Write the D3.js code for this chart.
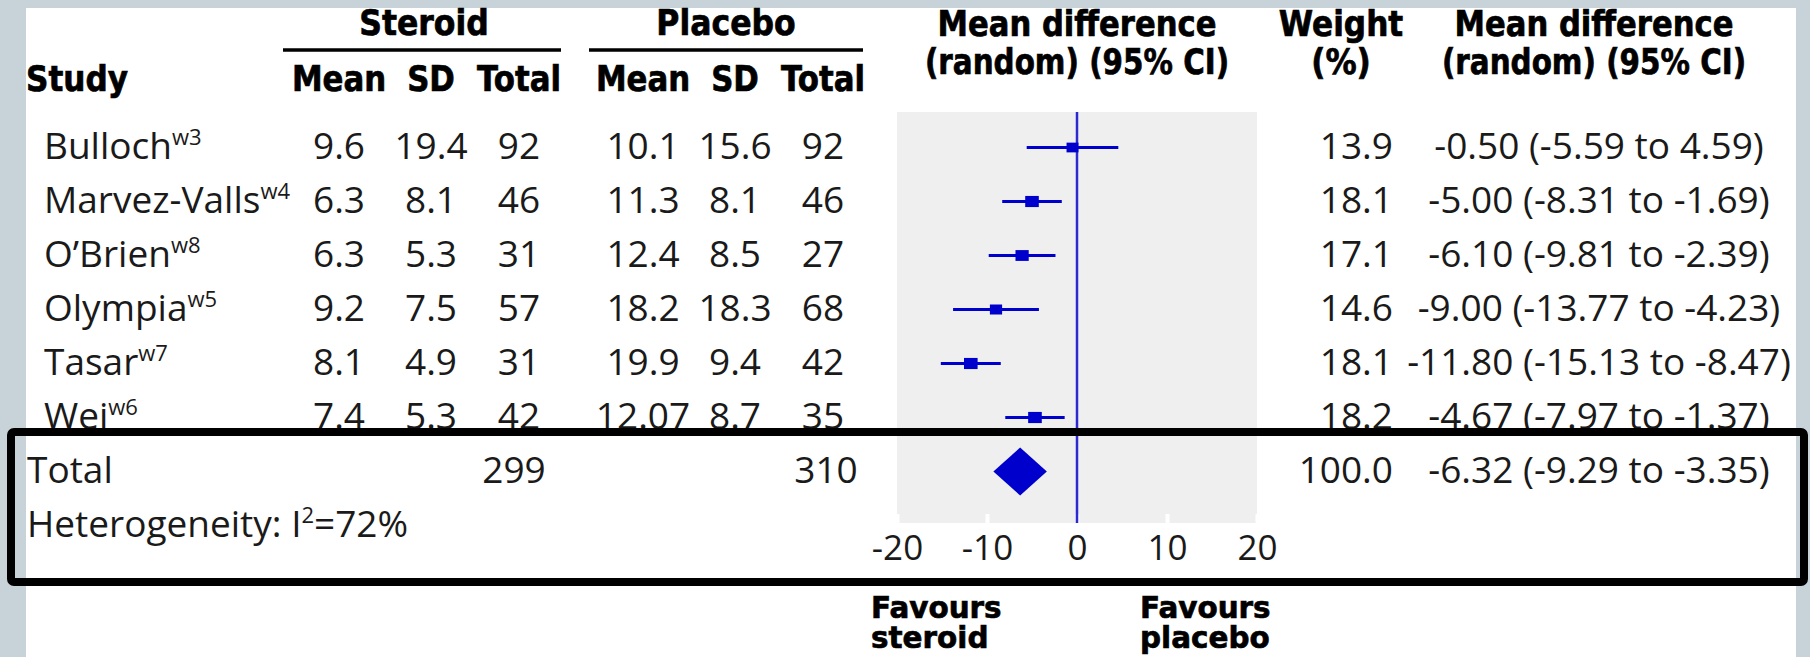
<!DOCTYPE html>
<html>
<head>
<meta charset="utf-8">
<script src="https://cdn.jsdelivr.net/npm/d3@7"></script>
<style>
  html, body { margin: 0; padding: 0; background: #c8d2d9; }
  svg { display: block; }
</style>
</head>
<body>
<svg id="chart" width="1810" height="657"></svg>
<script>
// ---------- data ----------
const studies      = ["Bulloch", "Marvez-Valls", "O\u2019Brien", "Olympia", "Tasar", "Wei"];
const refs         = ["w3", "w4", "w8", "w5", "w7", "w6"];
const steroidMean  = ["9.6", "6.3", "6.3", "9.2", "8.1", "7.4"];
const steroidSD    = ["19.4", "8.1", "5.3", "7.5", "4.9", "5.3"];
const steroidN     = [92, 46, 31, 57, 31, 42];
const placeboMean  = ["10.1", "11.3", "12.4", "18.2", "19.9", "12.07"];
const placeboSD    = ["15.6", "8.1", "8.5", "18.3", "9.4", "8.7"];
const placeboN     = [92, 46, 27, 68, 42, 35];
const weights      = [13.9, 18.1, 17.1, 14.6, 18.1, 18.2];
const md           = [-0.50, -5.00, -6.10, -9.00, -11.80, -4.67];
const ciLow        = [-5.59, -8.31, -9.81, -13.77, -15.13, -7.97];
const ciHigh       = [4.59, -1.69, -2.39, -4.23, -8.47, -1.37];
const totalSteroidN = 299;
const totalPlaceboN = 310;
const totalWeight   = 100.0;
const totalMD       = -6.32;
const totalLow      = -9.29;
const totalHigh     = -3.35;
const heterogeneityI2 = 72;
const xTicks        = [-20, -10, 0, 10, 20];

// ---------- layout ----------
const svg = d3.select("#chart");
const W = 1810, H = 657;
const bodyFont = "'Open Sans', 'Noto Sans', sans-serif";
const headFont = "'DejaVu Sans', 'Verdana', sans-serif";
const ink = "#1a1a1a";
const blue = "#0000cc";

svg.append("rect").attr("x", 0).attr("y", 0).attr("width", W).attr("height", H).attr("fill", "#c8d2d9");
svg.append("rect").attr("x", 26).attr("y", 8).attr("width", 1770).attr("height", H - 8).attr("fill", "#ffffff");

const x = d3.scaleLinear().domain([-20, 20]).range([897, 1257]);
const y = d3.scaleLinear().domain([0, 6]).range([147.5, 471.5]);
const sq = d3.scaleSqrt().domain([0, 20]).range([0, 13]);
const plotTop = 112, plotBottom = 523;

// header helper (bold, horizontally condensed)
function header(txt, cx, by, size, sx, anchor) {
  const g = svg.append("g").attr("transform", `translate(${cx},${by}) scale(${sx},1)`);
  g.append("text").attr("x", 0).attr("y", 0)
    .attr("text-anchor", anchor || "middle")
    .attr("font-family", headFont).attr("font-weight", "bold")
    .attr("font-size", size).attr("fill", "#000")
    .attr("stroke", "#000").attr("stroke-width", 0.7)
    .text(txt);
}

// ---------- headers ----------
header("Steroid", 424, 35, 35, 0.9);
header("Placebo", 726, 35, 35, 0.9);
svg.append("line").attr("x1", 283).attr("x2", 561).attr("y1", 50).attr("y2", 50).attr("stroke", "#000").attr("stroke-width", 3.5);
svg.append("line").attr("x1", 589).attr("x2", 863).attr("y1", 50).attr("y2", 50).attr("stroke", "#000").attr("stroke-width", 3.5);

header("Study", 26, 91, 35, 0.89, "start");
const subCols = [339, 431, 519, 643, 735, 823];
const subNames = ["Mean", "SD", "Total", "Mean", "SD", "Total"];
subCols.forEach((cx, i) => header(subNames[i], cx, 91, 35, 0.88));

header("Mean difference", 1077, 36, 35, 0.875);
header("(random) (95% CI)", 1077, 74, 35, 0.84);
header("Weight", 1341, 36, 35, 0.89);
header("(%)", 1341, 74, 35, 0.89);
header("Mean difference", 1594, 36, 35, 0.875);
header("(random) (95% CI)", 1594, 74, 35, 0.84);

// ---------- plot background ----------
svg.append("rect").attr("x", x(-20)).attr("y", plotTop)
  .attr("width", x(20) - x(-20)).attr("height", plotBottom - plotTop).attr("fill", "#efefef");

// white tick marks inside the plot panel
const tickAxis = d3.axisBottom(x).tickValues(xTicks).tickSize(-9).tickFormat("");
const tg = svg.append("g").attr("transform", `translate(0,${plotBottom})`).call(tickAxis);
tg.select(".domain").remove();
tg.selectAll(".tick text").remove();
tg.selectAll(".tick line").attr("stroke", "#ffffff").attr("stroke-width", 4);

// tick labels
const labAxis = d3.axisBottom(x).tickValues(xTicks).tickSize(0).tickFormat(d => String(d));
const lg = svg.append("g").attr("transform", `translate(0,${plotBottom})`).call(labAxis);
lg.select(".domain").remove();
lg.selectAll(".tick line").remove();
lg.selectAll(".tick text").attr("y", 37).attr("dy", null)
  .attr("font-family", bodyFont).attr("font-size", 35).attr("fill", ink);

// zero line
svg.append("line").attr("x1", x(0)).attr("x2", x(0)).attr("y1", plotTop).attr("y2", plotBottom)
  .attr("stroke", "#2a2ad0").attr("stroke-width", 2.5);

// CI lines and squares
const rows = studies.map((s, i) => ({ i, s }));
svg.append("g").selectAll("line").data(rows).join("line")
  .attr("x1", d => x(ciLow[d.i])).attr("x2", d => x(ciHigh[d.i]))
  .attr("y1", d => y(d.i)).attr("y2", d => y(d.i))
  .attr("stroke", blue).attr("stroke-width", 3);
svg.append("g").selectAll("rect").data(rows).join("rect")
  .attr("x", d => x(md[d.i]) - sq(weights[d.i]) * 0.55)
  .attr("y", d => y(d.i) - sq(weights[d.i]) * 0.45)
  .attr("width", d => sq(weights[d.i]) * 1.1)
  .attr("height", d => sq(weights[d.i]) * 0.9)
  .attr("fill", blue);

// diamond
const dy6 = y(6);
svg.append("path")
  .attr("d", `M${x(totalLow)},${dy6} L${x(totalMD)},${dy6 - 24} L${x(totalHigh)},${dy6} L${x(totalMD)},${dy6 + 24} Z`)
  .attr("fill", blue);

// ---------- table text ----------
function bodyText(txt, px, py, anchor) {
  return svg.append("text").attr("x", px).attr("y", py)
    .attr("text-anchor", anchor || "middle")
    .attr("font-family", bodyFont).attr("font-size", 37).attr("fill", ink).text(txt);
}
const base = 11.5;
rows.forEach(d => {
  const by = y(d.i) + base;
  const t = svg.append("text").attr("x", 44).attr("y", by)
    .attr("font-family", bodyFont).attr("font-size", 37).attr("fill", ink);
  t.append("tspan").text(d.s);
  t.append("tspan").attr("font-size", 22).attr("dy", -14).text(refs[d.i]);
  bodyText(steroidMean[d.i], subCols[0], by);
  bodyText(steroidSD[d.i], subCols[1], by);
  bodyText(String(steroidN[d.i]), subCols[2], by);
  bodyText(placeboMean[d.i], subCols[3], by);
  bodyText(placeboSD[d.i], subCols[4], by);
  bodyText(String(placeboN[d.i]), subCols[5], by);
  bodyText(weights[d.i].toFixed(1), 1393, by, "end");
  bodyText(`${md[d.i].toFixed(2)} (${ciLow[d.i].toFixed(2)} to ${ciHigh[d.i].toFixed(2)})`, 1599, by);
});

// totals
const tby = y(6) + base;
bodyText("Total", 27, tby, "start");
bodyText(String(totalSteroidN), 514, tby);
bodyText(String(totalPlaceboN), 826, tby);
bodyText(totalWeight.toFixed(1), 1393, tby, "end");
bodyText(`${totalMD.toFixed(2)} (${totalLow.toFixed(2)} to ${totalHigh.toFixed(2)})`, 1599, tby);

const ht = svg.append("text").attr("x", 27).attr("y", 537)
  .attr("font-family", bodyFont).attr("font-size", 37).attr("fill", ink);
ht.append("tspan").text("Heterogeneity: I");
ht.append("tspan").attr("font-size", 22).attr("dy", -14).text("2");
ht.append("tspan").attr("dy", 14).text(`=${heterogeneityI2}%`);

// favours labels
header("Favours", 871, 618, 31, 0.95, "start");
header("steroid", 871, 648, 31, 0.95, "start");
header("Favours", 1140, 618, 31, 0.95, "start");
header("placebo", 1140, 648, 31, 0.95, "start");

// black frame drawn on top
svg.append("rect").attr("x", 11).attr("y", 432).attr("width", 1793).attr("height", 150)
  .attr("rx", 3).attr("fill", "none").attr("stroke", "#000").attr("stroke-width", 8);
</script>
</body>
</html>
